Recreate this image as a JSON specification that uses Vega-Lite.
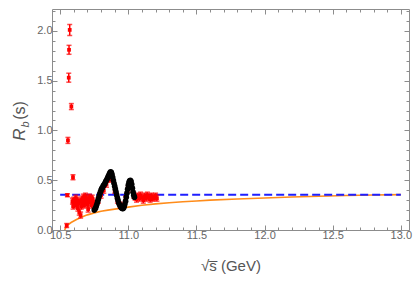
{
  "$schema": "https://vega.github.io/schema/vega-lite/v6.json",
  "width": 357,
  "height": 221,
  "autosize": "none",
  "padding": {"left": 52, "top": 9, "right": 10, "bottom": 53},
  "background": "white",
  "config": {
    "view": {"stroke": "#8c8c8c", "strokeWidth": 1},
    "axis": {"labelFont": "Liberation Sans", "titleFont": "Liberation Sans", "grid": false, "domain": false, "tickColor": "#8c8c8c", "tickWidth": 1, "labelColor": "#666666", "titleColor": "#555555", "titleFontWeight": "normal", "labelFontSize": 11, "labelOverlap": false, "labelFlush": false, "labelBound": false}
  },
  "datasets": {
    "red": [
      {"x": 10.548, "y": 0.045, "e": 0.02},
      {"x": 10.553, "y": 0.35, "e": 0.015},
      {"x": 10.557, "y": 0.90, "e": 0.03},
      {"x": 10.563, "y": 1.53, "e": 0.045},
      {"x": 10.565, "y": 1.81, "e": 0.045},
      {"x": 10.570, "y": 2.01, "e": 0.055},
      {"x": 10.582, "y": 1.24, "e": 0.03},
      {"x": 10.594, "y": 0.53, "e": 0.025},
      {"x": 10.590, "y": 0.29, "e": 0.03},
      {"x": 10.595, "y": 0.24, "e": 0.03},
      {"x": 10.600, "y": 0.30, "e": 0.03},
      {"x": 10.605, "y": 0.26, "e": 0.03},
      {"x": 10.610, "y": 0.28, "e": 0.03},
      {"x": 10.615, "y": 0.32, "e": 0.03},
      {"x": 10.620, "y": 0.25, "e": 0.03},
      {"x": 10.625, "y": 0.30, "e": 0.03},
      {"x": 10.630, "y": 0.22, "e": 0.03},
      {"x": 10.635, "y": 0.27, "e": 0.03},
      {"x": 10.640, "y": 0.18, "e": 0.03},
      {"x": 10.645, "y": 0.29, "e": 0.03},
      {"x": 10.650, "y": 0.15, "e": 0.03},
      {"x": 10.655, "y": 0.24, "e": 0.03},
      {"x": 10.660, "y": 0.31, "e": 0.03},
      {"x": 10.665, "y": 0.27, "e": 0.03},
      {"x": 10.670, "y": 0.33, "e": 0.03},
      {"x": 10.675, "y": 0.25, "e": 0.03},
      {"x": 10.680, "y": 0.30, "e": 0.03},
      {"x": 10.685, "y": 0.34, "e": 0.03},
      {"x": 10.690, "y": 0.28, "e": 0.03},
      {"x": 10.695, "y": 0.32, "e": 0.03},
      {"x": 10.700, "y": 0.26, "e": 0.03},
      {"x": 10.705, "y": 0.21, "e": 0.03},
      {"x": 10.710, "y": 0.30, "e": 0.03},
      {"x": 10.715, "y": 0.33, "e": 0.03},
      {"x": 10.720, "y": 0.28, "e": 0.03},
      {"x": 10.725, "y": 0.31, "e": 0.03},
      {"x": 10.730, "y": 0.25, "e": 0.03},
      {"x": 10.735, "y": 0.32, "e": 0.03},
      {"x": 10.740, "y": 0.29, "e": 0.03},
      {"x": 10.745, "y": 0.27, "e": 0.03},
      {"x": 10.760, "y": 0.24, "e": 0.03},
      {"x": 10.780, "y": 0.30, "e": 0.03},
      {"x": 10.800, "y": 0.35, "e": 0.03},
      {"x": 10.820, "y": 0.40, "e": 0.03},
      {"x": 10.840, "y": 0.46, "e": 0.03},
      {"x": 10.860, "y": 0.51, "e": 0.03},
      {"x": 10.880, "y": 0.52, "e": 0.03},
      {"x": 10.900, "y": 0.40, "e": 0.03},
      {"x": 10.920, "y": 0.30, "e": 0.03},
      {"x": 10.940, "y": 0.25, "e": 0.03},
      {"x": 10.960, "y": 0.24, "e": 0.03},
      {"x": 10.980, "y": 0.31, "e": 0.03},
      {"x": 11.000, "y": 0.41, "e": 0.03},
      {"x": 11.020, "y": 0.45, "e": 0.03},
      {"x": 11.040, "y": 0.35, "e": 0.03},
      {"x": 11.050, "y": 0.33, "e": 0.03},
      {"x": 11.060, "y": 0.31, "e": 0.03},
      {"x": 11.070, "y": 0.34, "e": 0.03},
      {"x": 11.080, "y": 0.32, "e": 0.03},
      {"x": 11.090, "y": 0.35, "e": 0.03},
      {"x": 11.100, "y": 0.33, "e": 0.03},
      {"x": 11.110, "y": 0.30, "e": 0.03},
      {"x": 11.120, "y": 0.34, "e": 0.03},
      {"x": 11.130, "y": 0.32, "e": 0.03},
      {"x": 11.140, "y": 0.35, "e": 0.03},
      {"x": 11.150, "y": 0.33, "e": 0.03},
      {"x": 11.160, "y": 0.31, "e": 0.03},
      {"x": 11.170, "y": 0.34, "e": 0.03},
      {"x": 11.180, "y": 0.32, "e": 0.03},
      {"x": 11.190, "y": 0.33, "e": 0.03},
      {"x": 11.200, "y": 0.34, "e": 0.03},
      {"x": 11.210, "y": 0.32, "e": 0.03}
    ],
    "black": [
      {"x": 10.750, "y": 0.20}, {"x": 10.755, "y": 0.21}, {"x": 10.760, "y": 0.22}, {"x": 10.765, "y": 0.24},
      {"x": 10.770, "y": 0.26}, {"x": 10.775, "y": 0.285}, {"x": 10.780, "y": 0.31}, {"x": 10.785, "y": 0.335},
      {"x": 10.790, "y": 0.36}, {"x": 10.795, "y": 0.38}, {"x": 10.800, "y": 0.40}, {"x": 10.805, "y": 0.415},
      {"x": 10.810, "y": 0.425}, {"x": 10.815, "y": 0.44}, {"x": 10.820, "y": 0.45}, {"x": 10.825, "y": 0.46},
      {"x": 10.830, "y": 0.475}, {"x": 10.835, "y": 0.49}, {"x": 10.840, "y": 0.50}, {"x": 10.845, "y": 0.515},
      {"x": 10.850, "y": 0.53}, {"x": 10.855, "y": 0.545}, {"x": 10.860, "y": 0.56}, {"x": 10.865, "y": 0.575},
      {"x": 10.870, "y": 0.585}, {"x": 10.875, "y": 0.58}, {"x": 10.880, "y": 0.56}, {"x": 10.885, "y": 0.53},
      {"x": 10.890, "y": 0.50}, {"x": 10.895, "y": 0.47}, {"x": 10.900, "y": 0.44}, {"x": 10.905, "y": 0.41},
      {"x": 10.910, "y": 0.38}, {"x": 10.915, "y": 0.35}, {"x": 10.920, "y": 0.32}, {"x": 10.925, "y": 0.295},
      {"x": 10.930, "y": 0.27}, {"x": 10.935, "y": 0.255}, {"x": 10.940, "y": 0.24}, {"x": 10.945, "y": 0.23},
      {"x": 10.950, "y": 0.222}, {"x": 10.955, "y": 0.218}, {"x": 10.960, "y": 0.215}, {"x": 10.965, "y": 0.22},
      {"x": 10.970, "y": 0.235}, {"x": 10.975, "y": 0.26}, {"x": 10.980, "y": 0.29}, {"x": 10.985, "y": 0.33},
      {"x": 10.990, "y": 0.37}, {"x": 10.995, "y": 0.41}, {"x": 11.000, "y": 0.45}, {"x": 11.005, "y": 0.48},
      {"x": 11.010, "y": 0.495}, {"x": 11.015, "y": 0.50}, {"x": 11.020, "y": 0.49}, {"x": 11.025, "y": 0.46},
      {"x": 11.030, "y": 0.42}, {"x": 11.035, "y": 0.38}, {"x": 11.040, "y": 0.35}, {"x": 11.045, "y": 0.33}
    ],
    "model": [
      {"x": 10.533, "r": 0.0}, {"x": 10.545, "r": 0.035}, {"x": 10.56, "r": 0.055}, {"x": 10.58, "r": 0.075},
      {"x": 10.60, "r": 0.09}, {"x": 10.62, "r": 0.105}, {"x": 10.65, "r": 0.125}, {"x": 10.70, "r": 0.152},
      {"x": 10.75, "r": 0.172}, {"x": 10.80, "r": 0.188}, {"x": 10.85, "r": 0.2}, {"x": 10.90, "r": 0.21},
      {"x": 10.95, "r": 0.22}, {"x": 11.0, "r": 0.23}, {"x": 11.1, "r": 0.248}, {"x": 11.2, "r": 0.262},
      {"x": 11.3, "r": 0.274}, {"x": 11.4, "r": 0.284}, {"x": 11.5, "r": 0.292}, {"x": 11.6, "r": 0.3},
      {"x": 11.8, "r": 0.312}, {"x": 12.0, "r": 0.322}, {"x": 12.2, "r": 0.331}, {"x": 12.4, "r": 0.339},
      {"x": 12.6, "r": 0.346}, {"x": 12.8, "r": 0.351}, {"x": 13.0, "r": 0.355}
    ],
    "ref": [{"x1": 10.5, "x2": 13.0, "y": 0.355}]
  },
  "resolve": {"axis": {"x": "independent", "y": "independent"}},
  "layer": [
    {
      "data": {"name": "model"},
      "mark": {"type": "line", "color": "#ff8c1a", "strokeWidth": 1.6},
      "encoding": {
        "x": {"field": "x", "type": "quantitative", "scale": {"domain": [10.44, 13.06], "nice": false, "zero": false},
          "axis": {"orient": "bottom",
            "values": [10.5, 10.6, 10.7, 10.8, 10.9, 11.0, 11.1, 11.2, 11.3, 11.4, 11.5, 11.6, 11.7, 11.8, 11.9, 12.0, 12.1, 12.2, 12.3, 12.4, 12.5, 12.6, 12.7, 12.8, 12.9, 13.0],
            "labelExpr": "abs(datum.value*2 - round(datum.value*2)) < 0.001 ? format(datum.value, '.1f') : ''",
            "tickSize": {"condition": {"test": "abs(datum.value*2 - round(datum.value*2)) < 0.001", "value": -5}, "value": -3},
            "labelPadding": 4,
            "title": "√s̅  (GeV)", "titleFontSize": 15, "titlePadding": 16}},
        "y": {"field": "r", "type": "quantitative", "scale": {"domain": [0, 2.22], "nice": false, "zero": false},
          "axis": {"orient": "left",
            "values": [0, 0.1, 0.2, 0.3, 0.4, 0.5, 0.6, 0.7, 0.8, 0.9, 1.0, 1.1, 1.2, 1.3, 1.4, 1.5, 1.6, 1.7, 1.8, 1.9, 2.0, 2.1, 2.2],
            "labelExpr": "abs(datum.value*2 - round(datum.value*2)) < 0.001 ? format(datum.value, '.1f') : ''",
            "tickSize": {"condition": {"test": "abs(datum.value*2 - round(datum.value*2)) < 0.001", "value": -5}, "value": -3},
            "labelPadding": 5,
            "title": "R", "titleFontSize": 17, "titleFontStyle": "italic", "titleAngle": -90,
            "titleX": -28, "titleY": 125, "titleAlign": "center", "titleBaseline": "alphabetic"}}
      }
    },
    {
      "data": {"name": "ref"},
      "mark": {"type": "rule", "color": "#1f1fff", "strokeWidth": 2, "strokeDash": [8, 4]},
      "encoding": {
        "x": {"field": "x1", "type": "quantitative", "scale": {"domain": [10.44, 13.06], "nice": false, "zero": false},
          "axis": {"orient": "top", "labels": false, "title": null,
            "values": [10.5, 10.6, 10.7, 10.8, 10.9, 11.0, 11.1, 11.2, 11.3, 11.4, 11.5, 11.6, 11.7, 11.8, 11.9, 12.0, 12.1, 12.2, 12.3, 12.4, 12.5, 12.6, 12.7, 12.8, 12.9, 13.0],
            "tickSize": {"condition": {"test": "abs(datum.value*2 - round(datum.value*2)) < 0.001", "value": -5}, "value": -3}}},
        "x2": {"field": "x2"},
        "y": {"field": "y", "type": "quantitative", "scale": {"domain": [0, 2.22], "nice": false, "zero": false},
          "axis": {"orient": "right", "labels": false, "title": null,
            "values": [0, 0.1, 0.2, 0.3, 0.4, 0.5, 0.6, 0.7, 0.8, 0.9, 1.0, 1.1, 1.2, 1.3, 1.4, 1.5, 1.6, 1.7, 1.8, 1.9, 2.0, 2.1, 2.2],
            "tickSize": {"condition": {"test": "abs(datum.value*2 - round(datum.value*2)) < 0.001", "value": -5}, "value": -3}}}
      }
    },
    {
      "data": {"name": "red"},
      "mark": {"type": "errorbar", "ticks": {"size": 5, "color": "#ff0000", "thickness": 1.5}, "rule": {"color": "#ff0000", "strokeWidth": 1.5}, "thickness": 1.5, "color": "#ff0000"},
      "encoding": {
        "x": {"field": "x", "type": "quantitative", "scale": {"domain": [10.44, 13.06], "nice": false, "zero": false}, "axis": null},
        "y": {"field": "y", "type": "quantitative", "scale": {"domain": [0, 2.22], "nice": false, "zero": false},
          "axis": {"orient": "left", "labels": false, "ticks": false, "domain": false,
            "title": "b", "titleFontSize": 11, "titleFontStyle": "italic", "titleAngle": -90,
            "titleX": -24, "titleY": 115, "titleAlign": "center", "titleBaseline": "alphabetic"}},
        "yError": {"field": "e"}
      }
    },
    {
      "data": {"name": "red"},
      "mark": {"type": "square", "color": "#ff0000", "opacity": 1, "size": 14},
      "encoding": {
        "x": {"field": "x", "type": "quantitative", "scale": {"domain": [10.44, 13.06], "nice": false, "zero": false}, "axis": null},
        "y": {"field": "y", "type": "quantitative", "scale": {"domain": [0, 2.22], "nice": false, "zero": false},
          "axis": {"orient": "left", "labels": false, "ticks": false, "domain": false,
            "title": "(s)", "titleFontSize": 16, "titleAngle": -90,
            "titleX": -28, "titleY": 101, "titleAlign": "center", "titleBaseline": "alphabetic"}}
      }
    },
    {
      "data": {"name": "black"},
      "mark": {"type": "circle", "color": "#000000", "opacity": 1, "size": 32},
      "encoding": {
        "x": {"field": "x", "type": "quantitative", "scale": {"domain": [10.44, 13.06], "nice": false, "zero": false}, "axis": null},
        "y": {"field": "y", "type": "quantitative", "scale": {"domain": [0, 2.22], "nice": false, "zero": false}, "axis": null}
      }
    }
  ]
}
